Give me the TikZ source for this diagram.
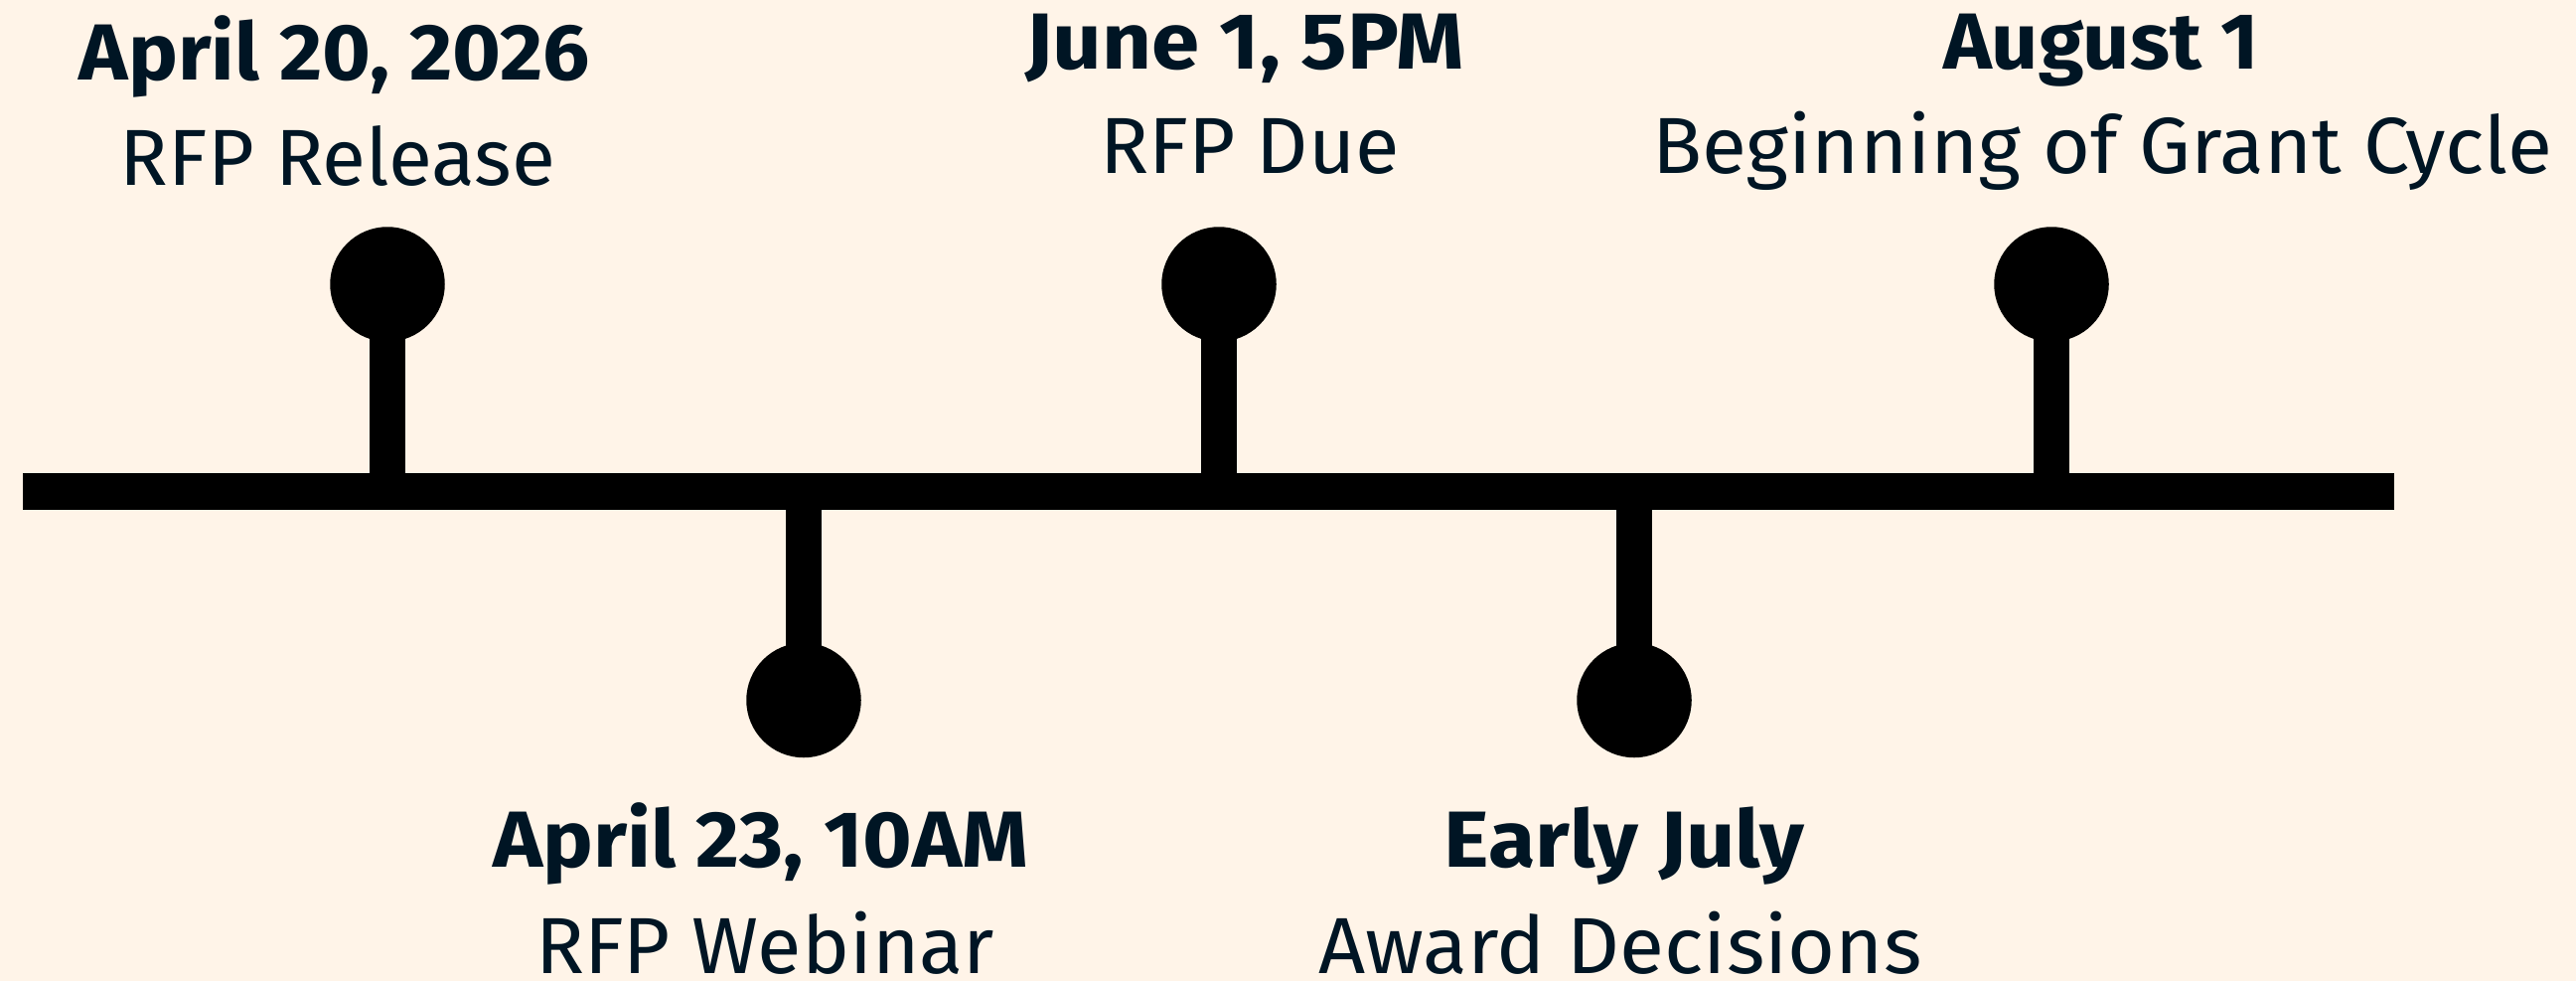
\documentclass[tikz,border=0pt]{standalone}
\usepackage{fontspec}
\usepackage{graphicx}
\setmainfont{Fira Sans}
\definecolor{paper}{HTML}{FFF4E8}
\definecolor{ink}{HTML}{001524}
% squeeze or stretch a label horizontally to a given width (in pt)
\newcommand\fitto[2]{\resizebox{#1pt}{\height}{#2}}
\tikzset{
  lbl/.style={anchor=base, inner sep=0pt, text=ink, font=\fontsize{80}{96}\selectfont},
  datelbl/.style={lbl, font=\fontsize{80}{96}\selectfont\bfseries},
  dot/.style={circle, fill=black, draw=none, minimum size=115.5pt, inner sep=0pt},
  axis/.style={line width=36.5pt, black, line cap=butt},
  stem/.style={line width=36pt, black, line cap=butt},
}
\begin{document}
\begin{tikzpicture}[x=1pt, y=-1pt]
  \fill[paper] (0,0) rectangle (2593,987);
  \useasboundingbox (0,0) rectangle (2593,987);

  % main time axis
  \coordinate (L) at (23,494.5);
  \coordinate (R) at (2410,494.5);
  \draw[axis] (L) -- (R);

  % points where the pins meet the axis
  \coordinate (a1) at (390,494.5);
  \coordinate (a2) at (809,494.5);
  \coordinate (a3) at (1227,494.5);
  \coordinate (a4) at (1645,494.5);
  \coordinate (a5) at (2065,494.5);

  % pin heads: above and below the axis in turn
  \node[dot] (p1) at (390,286) {};
  \node[dot] (p2) at (809,704.5) {};
  \node[dot] (p3) at (1227,286) {};
  \node[dot] (p4) at (1645,704.5) {};
  \node[dot] (p5) at (2065,286) {};

  \foreach \i in {1,...,5} \draw[stem] (a\i) -- (p\i.center);

  % milestone labels
  \node[datelbl] (d1) at (337,80.7)  {\fitto{514}{April 20, 2026}};
  \node[lbl]     (t1) at (340,186.7) {\fitto{438}{RFP Release}};

  \node[datelbl] (d2) at (766,872.7) {\fitto{539}{April 23, 10AM}};
  \node[lbl]     (t2) at (770,979)   {\fitto{462}{RFP Webinar}};

  \node[datelbl] (d3) at (1253,70)   {\fitto{442}{June 1, 5PM}};
  \node[lbl]     (t3) at (1258,175)  {\fitto{302}{RFP Due}};

  \node[datelbl] (d4) at (1635,872.7) {\fitto{363}{Early July}};
  \node[lbl]     (t4) at (1631,979)   {\fitto{607}{Award Decisions}};

  \node[datelbl] (d5) at (2115,69.3) {\fitto{318}{August 1}};
  \node[lbl]     (t5) at (2116,175)  {\fitto{906}{Beginning of Grant Cycle}};
\end{tikzpicture}
\end{document}
